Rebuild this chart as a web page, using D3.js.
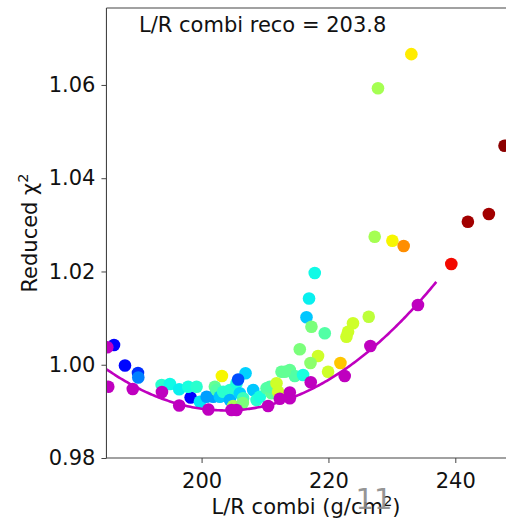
<!DOCTYPE html>
<html>
<head>
<meta charset="utf-8">
<script src="https://cdn.jsdelivr.net/npm/d3@7"></script>
<style>
  html, body { margin: 0; padding: 0; background: #fff; }
  svg { display: block; font-family: "DejaVu Sans", sans-serif; }
</style>
</head>
<body>
<svg id="chart" width="506" height="519"></svg>
<script>
// ---- data ----
const scanX = [233.07, 227.81, 247.76, 241.98, 245.29, 227.29, 230.08, 231.86, 239.37, 217.84,
  216.94, 216.54, 217.32, 219.42, 223.87, 223.09, 222.84, 226.35, 215.48, 218.36,
  217.17, 221.89, 219.94, 212.6, 213.9, 214.69, 216.0, 206.93, 203.2, 186.19,
  187.92, 189.97, 190.02, 198.27, 193.7, 195.01, 196.47, 197.89, 199.21, 199.73,
  200.79, 201.83, 202.09, 202.36, 202.88, 203.4, 204.46, 204.46, 204.98, 205.51,
  205.76, 206.03, 206.55, 206.5, 208.13, 208.66, 209.18, 210.24, 211.02, 210.76,
  211.81, 212.06, 213.12];
const scanY = [1.0666, 1.05928, 1.04697, 1.03067, 1.03232, 1.02746, 1.0266, 1.02546, 1.0216, 1.01967,
  1.0142, 1.01017, 1.00816, 1.00674, 1.00889, 1.00708, 1.00601, 1.0103, 1.00331, 1.00187,
  1.00037, 1.00037, 0.99851, 0.99851, 0.99887, 0.99758, 0.9978, 0.99816, 0.99758, 1.00423,
  0.99984, 0.99823, 0.99726, 0.99297, 0.99565, 0.99587, 0.99473, 0.99529, 0.99529, 0.99207,
  0.99315, 0.99315, 0.99529, 0.99458, 0.99315, 0.99422, 0.99458, 0.99244, 0.99115, 0.99602,
  0.99683, 0.99387, 0.9928, 0.99179, 0.99458, 0.99244, 0.99315, 0.99495, 0.99387, 0.99529,
  0.99602, 0.99422, 0.99851];
const scanC = [0.66, 0.55, 0.99, 0.97, 0.97, 0.55, 0.65, 0.76, 0.9, 0.37,
  0.36, 0.32, 0.5, 0.45, 0.6, 0.6, 0.6, 0.58, 0.5, 0.6,
  0.52, 0.7, 0.6, 0.47, 0.47, 0.45, 0.38, 0.33, 0.65, 0.12,
  0.13, 0.17, 0.25, 0.12, 0.4, 0.37, 0.36, 0.38, 0.4, 0.35,
  0.28, 0.28, 0.47, 0.45, 0.32, 0.4, 0.4, 0.3, 0.55, 0.38,
  0.2, 0.33, 0.42, 0.5, 0.32, 0.4, 0.38, 0.45, 0.47, 0.45,
  0.6, 0.6, 0.47];
const bestX = [185.13, 185.29, 189.15, 193.75, 196.47, 201.07, 204.72, 205.51, 210.49, 212.33,
  213.91, 213.91, 217.21, 222.56, 226.61, 234.11];
const bestY = [1.00374, 0.99529, 0.9948, 0.99415, 0.99126, 0.9904, 0.99029, 0.99029, 0.99115, 0.99269,
  0.9928, 0.99405, 0.99623, 0.99758, 1.00402, 1.01281];
// parabola fit: centre, minimum, curvature, drawn range
const fitParams = [203.8, 0.9902, 2.5e-5];
const fitRange = [185, 237.1];
const xTicks = [200, 220, 240];
const yTicks = [0.98, 1.00, 1.02, 1.04, 1.06];
const titleText = "L/R combi reco = 203.8";
const pageMark = "11";

// ---- layout ----
const svg = d3.select("#chart");
const L = 106.45, T = 8, R = 507, B = 458;
const x = d3.scaleLinear().domain([185, 248.15]).range([L, R]);
const y = d3.scaleLinear().domain([0.98, 1.0765]).range([B, T]);

// jet colormap
function jet(t) {
  const seg = (pts) => d3.scaleLinear().domain(pts.map(p => p[0])).range(pts.map(p => p[1])).clamp(true)(t);
  const r = seg([[0, 0], [0.35, 0], [0.66, 1], [0.89, 1], [1, 0.5]]);
  const g = seg([[0, 0], [0.125, 0], [0.375, 1], [0.64, 1], [0.91, 0], [1, 0]]);
  const b = seg([[0, 0.5], [0.11, 1], [0.34, 1], [0.65, 0], [1, 0]]);
  return d3.rgb(r * 255, g * 255, b * 255).toString();
}

const defs = svg.append("defs");
defs.append("clipPath").attr("id", "clip").append("rect")
  .attr("x", L).attr("y", T).attr("width", R - L).attr("height", B - T);

const plot = svg.append("g").attr("clip-path", "url(#clip)");

const scan = scanX.map((v, i) => ({ x: v, y: scanY[i], c: scanC[i] }));
plot.selectAll("circle.scan").data(scan).join("circle")
  .attr("class", "scan")
  .attr("cx", d => x(d.x)).attr("cy", d => y(d.y)).attr("r", 6.3)
  .attr("fill", d => jet(d.c));

// fit curve
const fitPts = d3.range(fitRange[0], fitRange[1] + 0.001, 0.25).map(v => [v, fitParams[1] + fitParams[2] * (v - fitParams[0]) ** 2]);
plot.append("path")
  .attr("d", d3.line().x(d => x(d[0])).y(d => y(d[1]))(fitPts))
  .attr("fill", "none").attr("stroke", "#bf00bf").attr("stroke-width", 2.6);

const best = bestX.map((v, i) => ({ x: v, y: bestY[i] }));
plot.selectAll("circle.best").data(best).join("circle")
  .attr("class", "best")
  .attr("cx", d => x(d.x)).attr("cy", d => y(d.y)).attr("r", 6.3)
  .attr("fill", "#bf00bf");

// axes
const fs = 21;
const xAxis = svg.append("g").attr("transform", `translate(0,${B})`)
  .call(d3.axisBottom(x).tickValues(xTicks).tickSize(5).tickPadding(6).tickFormat(d3.format("d")));
const yAxis = svg.append("g").attr("transform", `translate(${L},0)`)
  .call(d3.axisLeft(y).tickValues(yTicks).tickSize(5).tickPadding(6).tickFormat(d3.format(".2f")));
[xAxis, yAxis].forEach(a => {
  a.select(".domain").remove();
  a.selectAll("line").attr("stroke", "#444").attr("stroke-width", 1);
  a.selectAll("text").attr("font-size", fs).attr("fill", "#111").attr("font-family", "DejaVu Sans");
});
xAxis.selectAll("text").attr("dy", "0.9em");

// spines
svg.append("path")
  .attr("d", `M${L},${T}H${R}M${L},${T}V${B}H${R}`)
  .attr("stroke", "#444").attr("stroke-width", 1.1).attr("fill", "none");

// title inside the axes
svg.append("text").attr("x", 139).attr("y", 32).attr("font-size", fs).attr("fill", "#111")
  .text(titleText);

// axis labels
const xl = svg.append("text").attr("x", 306).attr("y", 514).attr("text-anchor", "middle")
  .attr("font-size", fs).attr("fill", "#111");
xl.append("tspan").text("L/R combi (g/cm");
xl.append("tspan").attr("font-size", fs * 0.7).attr("dy", -8).text("2");
xl.append("tspan").attr("dy", 8).text(")");

const yl = svg.append("text").attr("transform", "translate(37,233) rotate(-90)")
  .attr("text-anchor", "middle").attr("font-size", fs).attr("fill", "#111");
yl.append("tspan").text("Reduced χ");
yl.append("tspan").attr("font-size", fs * 0.7).attr("dy", -9).text("2");

// page mark overlay (overlaps the x label in the reference too)
svg.append("text").attr("x", 374).attr("y", 509).attr("text-anchor", "middle")
  .attr("font-size", 29).attr("fill", "#8a8a8a").attr("opacity", 0.9)
  .text(pageMark);
</script>
</body>
</html>
